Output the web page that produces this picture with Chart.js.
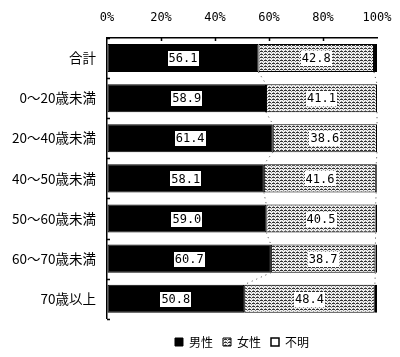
<!DOCTYPE html>
<html>
<head>
<meta charset="utf-8">
<script src="https://cdn.jsdelivr.net/npm/chart.js@4"></script>
<style>
html,body{margin:0;padding:0;background:#fff;}
#wrap{width:400px;height:357px;}
</style>
</head>
<body>
<div id="wrap"><canvas id="c" width="400" height="357"></canvas></div>
<script>
const categories = ['合計', '0～20歳未満', '20～40歳未満', '40～50歳未満', '50～60歳未満', '60～70歳未満', '70歳以上'];
const maleValues = [56.1, 58.9, 61.4, 58.1, 59.0, 60.7, 50.8];
const femaleValues = [42.8, 41.1, 38.6, 41.6, 40.5, 38.7, 48.4];
const unknownValues = [1.1, 0.0, 0.0, 0.3, 0.5, 0.6, 0.8];
const seriesNames = ['男性', '女性', '不明'];
const tickLabels = ['0%', '20%', '40%', '60%', '80%', '100%'];

function makePattern() {
  const t = document.createElement('canvas');
  t.width = 8; t.height = 3;
  const g = t.getContext('2d');
  g.fillStyle = '#f0f0f0'; g.fillRect(0, 0, 8, 3);
  g.fillStyle = '#333';
  g.fillRect(0, 0, 3, 1);
  g.fillRect(4, 0, 3, 1);
  g.fillStyle = '#888';
  g.fillRect(1, 2, 1, 1);
  g.fillRect(5, 2, 1, 1);
  g.fillRect(3, 1, 1, 1);
  g.fillRect(7, 1, 1, 1);
  return document.getElementById('c').getContext('2d').createPattern(t, 'repeat');
}
const femalePattern = makePattern();

const labelPlugin = {
  id: 'valueLabels',
  afterDatasetsDraw(chart) {
    const ctx = chart.ctx;
    ctx.save();
    ctx.font = '12px "DejaVu Sans Mono", monospace';
    ctx.textAlign = 'center';
    ctx.textBaseline = 'middle';
    [0, 1].forEach(di => {
      const meta = chart.getDatasetMeta(di);
      meta.data.forEach((bar, i) => {
        const v = chart.data.datasets[di].data[i];
        const txt = v.toFixed(1);
        const cx = (bar.x + bar.base) / 2;
        const cy = bar.y;
        const w = ctx.measureText(txt).width + 2;
        ctx.fillStyle = '#fff';
        ctx.fillRect(Math.round(cx - w / 2), Math.round(cy - 7), Math.round(w), 15);
        ctx.fillStyle = '#000';
        ctx.fillText(txt, cx, cy + 1);
      });
    });
    ctx.restore();
  }
};

const seriesLinePlugin = {
  id: 'seriesLines',
  afterDatasetsDraw(chart) {
    const ctx = chart.ctx;
    const xs = chart.scales.x;
    const m0 = chart.getDatasetMeta(0);
    ctx.save();
    ctx.strokeStyle = '#444';
    ctx.lineWidth = 1;
    ctx.setLineDash([1, 4]);
    for (let i = 0; i < categories.length - 1; i++) {
      const a = m0.data[i], b = m0.data[i + 1];
      const aBottom = a.y + a.height / 2, bTop = b.y - b.height / 2;
      const cumA = [maleValues[i], maleValues[i] + femaleValues[i]];
      const cumB = [maleValues[i + 1], maleValues[i + 1] + femaleValues[i + 1]];
      for (let k = 0; k < 2; k++) {
        ctx.beginPath();
        ctx.moveTo(xs.getPixelForValue(cumA[k]), aBottom);
        ctx.lineTo(xs.getPixelForValue(cumB[k]), bTop);
        ctx.stroke();
      }
    }
    ctx.restore();
  }
};

const tickMarkPlugin = {
  id: 'innerTicks',
  afterDraw(chart) {
    const ctx = chart.ctx;
    const xs = chart.scales.x, ys = chart.scales.y;
    const area = chart.chartArea;
    ctx.save();
    ctx.strokeStyle = '#000';
    ctx.lineWidth = 1.5;
    ctx.beginPath();
    for (let i = 1; i < tickLabels.length - 1; i++) {
      const x = Math.round(xs.getPixelForValue(i * 20)) + 0.5;
      ctx.moveTo(x, area.top);
      ctx.lineTo(x, area.top + 3);
    }
    for (let i = 0; i <= categories.length; i++) {
      const y = Math.round(ys.getPixelForValue(i - 0.5)) + 0.5;
      ctx.moveTo(area.left, y);
      ctx.lineTo(area.left + 3, y);
    }
    ctx.stroke();
    ctx.restore();
  }
};

new Chart(document.getElementById('c'), {
  type: 'bar',
  data: {
    labels: categories,
    datasets: [
      { label: seriesNames[0], data: maleValues, backgroundColor: '#000', borderColor: '#000', borderWidth: 1 },
      { label: seriesNames[1], data: femaleValues, backgroundColor: femalePattern, borderColor: '#000', borderWidth: 1 },
      { label: seriesNames[2], data: unknownValues, backgroundColor: '#fff', borderColor: '#000', borderWidth: 1.5 }
    ]
  },
  options: {
    indexAxis: 'y',
    responsive: false,
    animation: false,
    devicePixelRatio: 1,
    datasets: { bar: { barPercentage: 0.7, categoryPercentage: 1.0, borderSkipped: false } },
    layout: { padding: { left: 0, right: 23, top: 0, bottom: -1 } },
    scales: {
      x: {
        position: 'top',
        stacked: true,
        min: 0, max: 100,
        afterBuildTicks(s) { s.ticks = tickLabels.map((t, i) => ({ value: i * 20 })); },
        afterFit(s) { s.height = 38; s.paddingLeft = 0; s.paddingRight = 0; },
        ticks: {
          callback: (v, i) => tickLabels[i],
          color: '#000',
          font: { family: '"DejaVu Sans Mono", monospace', size: 12 },
          padding: 13,
          maxRotation: 0
        },
        grid: { drawOnChartArea: false, drawTicks: false },
        border: { color: '#000', width: 1.5 }
      },
      y: {
        stacked: true,
        afterFit(s) { s.width = 107; s.paddingTop = 0; s.paddingBottom = 0; },
        ticks: {
          color: '#000',
          font: { family: '"Noto Sans CJK JP", sans-serif', size: 13.5 },
          padding: 11
        },
        grid: { drawOnChartArea: false, drawTicks: false },
        border: { color: '#000', width: 1.5 }
      }
    },
    plugins: {
      legend: {
        position: 'bottom',
        fullSize: false,
        title: { display: true, text: ' ', font: { size: 1 }, padding: { top: 6, bottom: 0 } },
        labels: {
          color: '#000',
          font: { family: '"Noto Sans CJK JP", sans-serif', size: 12 },
          boxWidth: 8, boxHeight: 8,
          padding: 10
        }
      },
      tooltip: { enabled: false }
    }
  },
  plugins: [seriesLinePlugin, labelPlugin, tickMarkPlugin]
});
</script>
</body>
</html>
